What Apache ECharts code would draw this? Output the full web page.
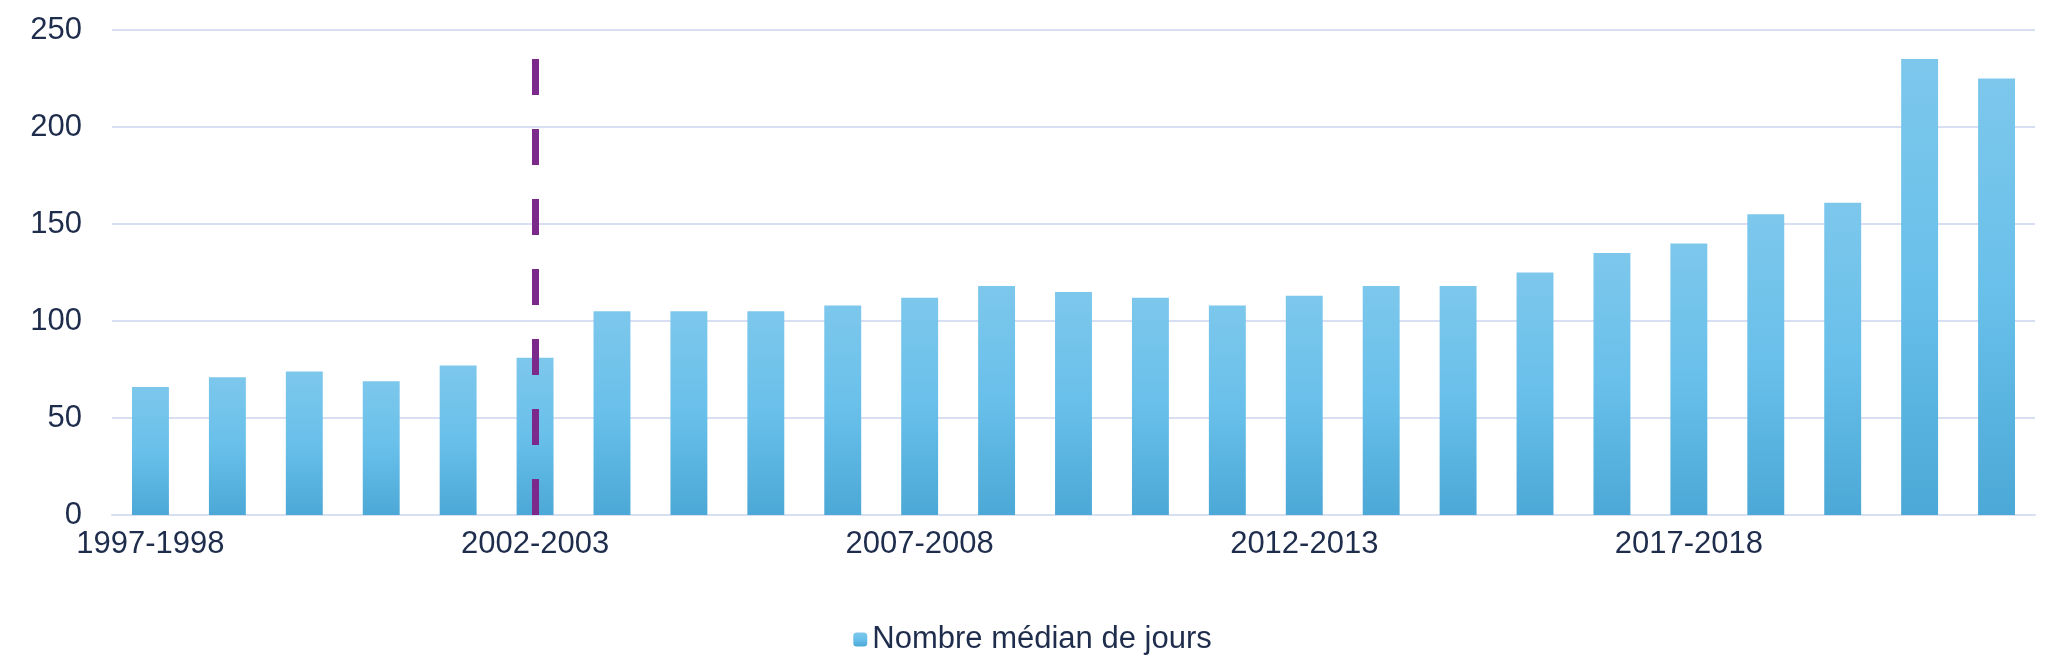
<!DOCTYPE html>
<html><head><meta charset="utf-8">
<script src="https://cdn.jsdelivr.net/npm/echarts@6/dist/echarts.min.js"></script>
<style>html,body{margin:0;padding:0;background:#fff}#c{width:2065px;height:670px}</style>
</head><body><div id="c"></div>
<script>
const categories = ["1997-1998","1998-1999","1999-2000","2000-2001","2001-2002","2002-2003","2003-2004","2004-2005","2005-2006","2006-2007","2007-2008","2008-2009","2009-2010","2010-2011","2011-2012","2012-2013","2013-2014","2014-2015","2015-2016","2016-2017","2017-2018","2018-2019","2019-2020","2020-2021","2021-2022"];
const values = [66,71,74,69,77,81,105,105,105,108,112,118,115,112,108,113,118,118,125,135,140,155,161,235,225];
const markerCategory = "2002-2003";
const chart = echarts.init(document.getElementById('c'));
const F = 'Arial, Liberation Sans';
chart.setOption({
  animation:false,
  grid:{left:112,right:30,top:30,bottom:155},
  legend:{bottom:10,left:'center',itemWidth:14,itemHeight:14,itemGap:6,textStyle:{fontSize:31,color:'#1F2D4D',fontFamily:F},data:['Nombre médian de jours']},
  xAxis:{type:'category',data:categories,axisLine:{lineStyle:{color:'#D9DFF2',width:2}},axisTick:{show:false},
    axisLabel:{interval:4,fontSize:31,color:'#1F2D4D',fontFamily:F,margin:14}},
  yAxis:{type:'value',min:0,max:250,interval:50,axisLine:{show:false},axisTick:{show:false},
    splitLine:{lineStyle:{color:'#D9DFF2',width:2}},
    axisLabel:{fontSize:31,color:'#1F2D4D',fontFamily:F,margin:30}},
  series:[{name:'Nombre médian de jours',type:'bar',data:values,barWidth:'48%',
    itemStyle:{color:new echarts.graphic.LinearGradient(0,0,0,1,[{offset:0,color:'#7DC7EC'},{offset:0.5,color:'#68C0EA'},{offset:1,color:'#4CA8D6'}])},
    markLine:{silent:true,symbol:['none','none'],label:{show:false},
      lineStyle:{color:'#7B2A8C',width:7,type:[36,34]},
      data:[{xAxis:markerCategory}]}}]
});
</script></body></html>
